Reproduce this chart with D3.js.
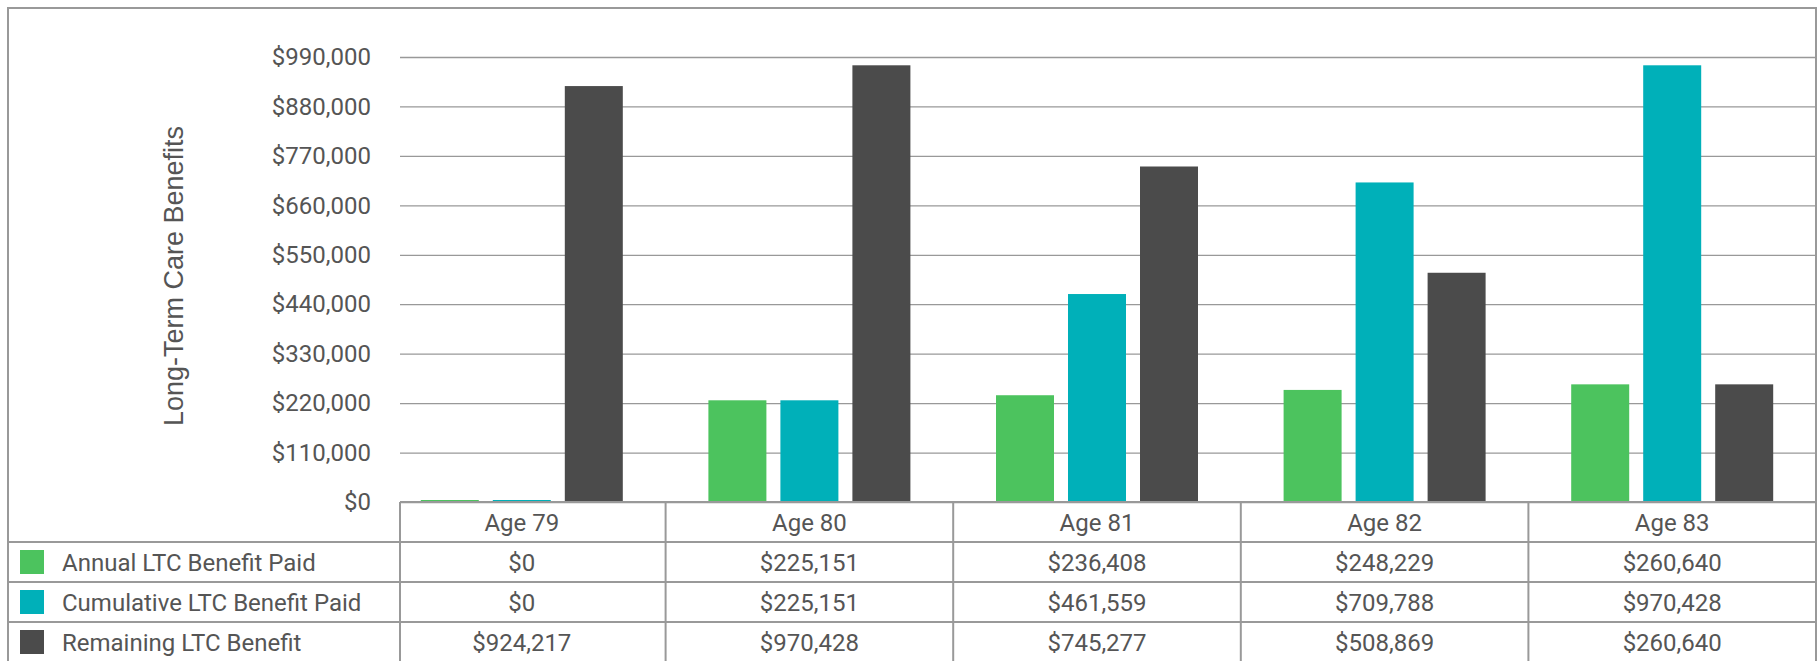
<!DOCTYPE html>
<html>
<head>
<meta charset="utf-8">
<script src="https://cdn.jsdelivr.net/npm/d3@7"></script>
<style>
  body { margin: 0; background: #fff; }
  text { font-family: Roboto, sans-serif; fill: #555; }
</style>
</head>
<body>
<div id="canvas"></div>
<script>
const ages = ["Age 79", "Age 80", "Age 81", "Age 82", "Age 83"];
const seriesNames = ["Annual LTC Benefit Paid", "Cumulative LTC Benefit Paid", "Remaining LTC Benefit"];
const annualPaid = [0, 225151, 236408, 248229, 260640];
const cumulativePaid = [0, 225151, 461559, 709788, 970428];
const remaining = [924217, 970428, 745277, 508869, 260640];
const yTicks = [0, 110000, 220000, 330000, 440000, 550000, 660000, 770000, 880000, 990000];
const colors = ["#4cc35e", "#00b0b9", "#4b4b4b"];

const width = 1818;
const height = 661;
const frame = { left: 8, top: 8, right: 1816 };
// bands start at 378 but gridlines / table cells start at 400
const plot = { bandLeft: 378, left: 400, right: 1816, top: 57, bottom: 502 };
const rowH = 40;
const fontPx = "24px";

const seriesValues = [annualPaid, cumulativePaid, remaining];

const svg = d3.select("#canvas").append("svg")
    .attr("width", width)
    .attr("height", height);

const y = d3.scaleLinear()
    .domain([0, 990000])
    .range([plot.bottom, plot.top]);

const x = d3.scaleBand()
    .domain(ages)
    .range([plot.bandLeft, plot.right])
    .padding(0);

const groupW = 202;
const x1 = d3.scaleBand()
    .domain(seriesNames)
    .range([(x.bandwidth() - groupW) / 2, (x.bandwidth() + groupW) / 2])
    .paddingInner(14 / 72)
    .paddingOuter(0);

const fmt = d3.format("$,.0f");

// outer frame
svg.append("rect")
    .attr("x", frame.left)
    .attr("y", frame.top)
    .attr("width", frame.right - frame.left)
    .attr("height", height)
    .attr("fill", "none")
    .attr("stroke", "#999")
    .attr("stroke-width", 2);

// gridlines + y labels
const yAxis = d3.axisLeft(y)
    .tickValues(yTicks)
    .tickSize(-(plot.right - plot.left))
    .tickPadding(29)
    .tickFormat(fmt);

const ga = svg.append("g")
    .attr("transform", `translate(${plot.left},0)`)
    .call(yAxis);
ga.select(".domain").remove();
ga.selectAll(".tick line").attr("stroke", "#999").attr("stroke-width", 1.3);
ga.selectAll(".tick text")
    .style("font-family", "Roboto, sans-serif")
    .style("font-size", fontPx)
    .attr("fill", "#555");

svg.append("text")
    .attr("transform", `translate(183,276) rotate(-90)`)
    .attr("text-anchor", "middle")
    .style("font-family", "'Liberation Sans', Arial, sans-serif")
    .style("font-size", "27px")
    .text("Long-Term Care Benefits");

// bars
const groups = svg.selectAll("g.age")
    .data(ages)
    .enter().append("g")
    .attr("class", "age")
    .attr("transform", d => `translate(${x(d)},0)`);

groups.selectAll("rect")
    .data((d, i) => seriesNames.map((s, k) => ({ s: s, k: k, v: seriesValues[k][i] })))
    .enter().append("rect")
    .attr("x", d => x1(d.s))
    .attr("width", x1.bandwidth())
    .attr("y", d => Math.min(y(d.v), plot.bottom - 1.5) - 0.5)
    .attr("height", d => Math.max(plot.bottom - y(d.v), 1.5))
    .attr("fill", d => colors[d.k]);

// data table
const tbl = svg.append("g").attr("class", "table");
const lineCol = "#999";

tbl.append("line")
    .attr("x1", plot.left).attr("x2", plot.right)
    .attr("y1", plot.bottom).attr("y2", plot.bottom)
    .attr("stroke", lineCol).attr("stroke-width", 2);

for (let r = 1; r <= seriesNames.length; r++) {
    tbl.append("line")
        .attr("x1", frame.left).attr("x2", frame.right)
        .attr("y1", plot.bottom + r * rowH).attr("y2", plot.bottom + r * rowH)
        .attr("stroke", lineCol).attr("stroke-width", 2);
}

tbl.selectAll("line.col")
    .data(ages)
    .enter().append("line")
    .attr("class", "col")
    .attr("x1", (d, i) => i === 0 ? plot.left : x(d))
    .attr("x2", (d, i) => i === 0 ? plot.left : x(d))
    .attr("y1", plot.bottom).attr("y2", height)
    .attr("stroke", lineCol).attr("stroke-width", 2);

tbl.selectAll("text.head")
    .data(ages)
    .enter().append("text")
    .attr("class", "head")
    .attr("x", d => x(d) + x.bandwidth() / 2)
    .attr("y", plot.bottom + rowH / 2)
    .attr("dy", "0.36em")
    .attr("text-anchor", "middle")
    .style("font-size", fontPx)
    .text(d => d);

seriesNames.forEach((s, k) => {
    const cy = plot.bottom + (k + 1) * rowH + rowH / 2;
    tbl.append("rect")
        .attr("x", 20).attr("y", cy - 12)
        .attr("width", 24).attr("height", 24)
        .attr("fill", colors[k]);
    tbl.append("text")
        .attr("x", 62).attr("y", cy)
        .attr("dy", "0.36em")
        .style("font-size", fontPx)
        .text(s);
    tbl.selectAll(null)
        .data(seriesValues[k])
        .enter().append("text")
        .attr("x", (d, i) => x(ages[i]) + x.bandwidth() / 2)
        .attr("y", cy)
        .attr("dy", "0.36em")
        .attr("text-anchor", "middle")
        .style("font-size", fontPx)
        .text(d => fmt(d));
});
</script>
</body>
</html>
